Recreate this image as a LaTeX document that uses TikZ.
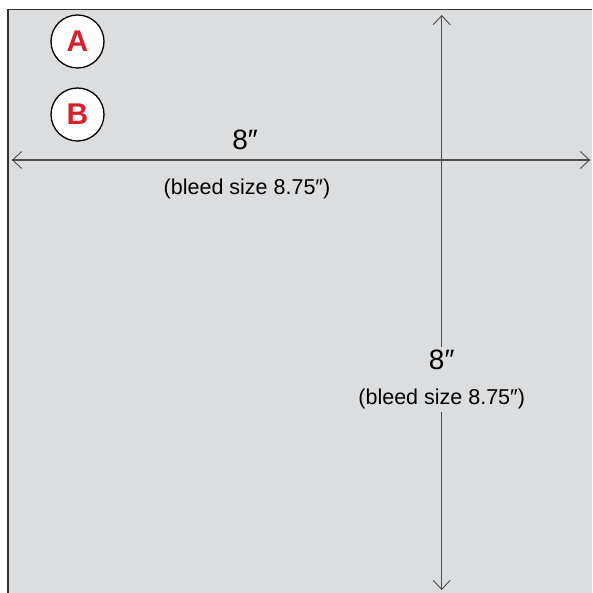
\documentclass[tikz,border=0pt]{standalone}
\usepackage{fontspec}
\setmainfont{Liberation Sans}
\usetikzlibrary{arrows.meta}
\definecolor{sheetgray}{RGB}{220,221,223}
\definecolor{markred}{RGB}{214,32,44}
\tikzset{
  badge/.style={circle, draw=black, line width=1.3pt, fill=white, minimum size=53pt, inner sep=0pt, text=markred, font=\fontsize{30}{30}\selectfont\bfseries},
  dimline/.style={draw=black!70, line width=1.3pt},
  barb/.style={-{Straight Barb[length=9pt,width=17pt,line width=0.9pt]}},
  sizelabel/.style={inner sep=3pt, font=\fontsize{28}{30}\selectfont},
  bleedlabel/.style={inner sep=3pt, font=\fontsize{21.5}{24}\selectfont}
}
\begin{document}
\begin{tikzpicture}[x=1pt,y=-1pt]
\useasboundingbox (0,0) rectangle (592,593);
%\draw[step=20,gray,very thin] (0,0) grid (592,593); %background grid
\fill[sheetgray] (8,9.5) rectangle (592,593);
\draw[line width=1.3pt, black!80] (8,593) -- (8,9.5) -- (592,9.5);
\node[badge] (A) at (77.5,41.5) {A}; %A
\node[badge] (B) at (77.5,114.5) {B}; %B
\coordinate (hleft) at (12,160); \coordinate (hright) at (590,160);
\coordinate (vtop) at (441.7,15); \coordinate (vbottom) at (441.7,590);
\draw[dimline, barb] (hleft) -- (hright); \draw[dimline, barb] (hright) -- (hleft);
\node[sizelabel] (hsize) at (245,140) {8″}; %width
\node[bleedlabel] (hbleed) at (247,189) {(bleed size 8.75″)};
\node[sizelabel] (vsize) at (441.7,360) {8″}; %height
\node[bleedlabel] (vbleed) at (441.7,399) {(bleed size 8.75″)};
\draw[dimline, barb] (vsize.north) -- (vtop);
\draw[dimline, barb] (vbleed.south) -- (vbottom);
\end{tikzpicture}
\end{document}
